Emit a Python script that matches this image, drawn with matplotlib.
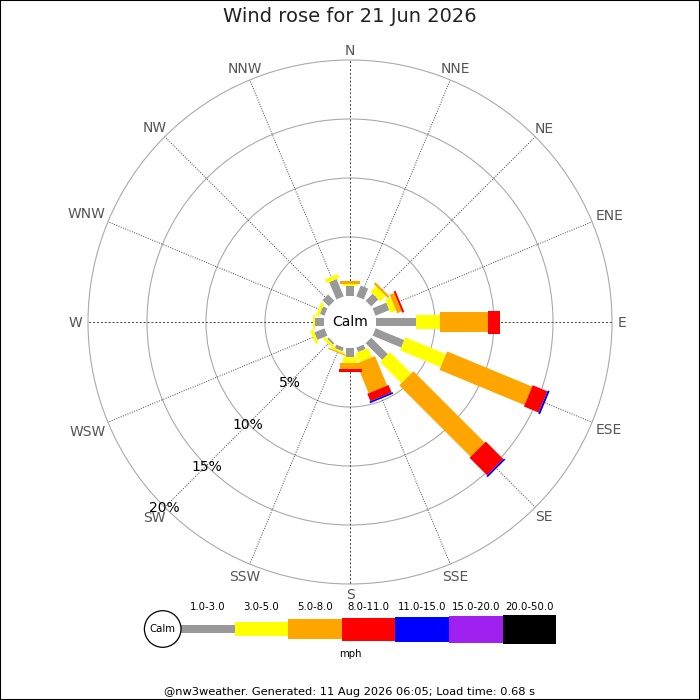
import matplotlib
matplotlib.use('Agg')
import matplotlib.pyplot as plt
import numpy as np
from matplotlib.patches import Polygon, Circle, Rectangle

# ---------------- data ----------------
title = "Wind rose for 21 Jun 2026"
footer = "@nw3weather. Generated: 11 Aug 2026 06:05; Load time: 0.68 s"
directions = ["N", "NNE", "NE", "ENE", "E", "ESE", "SE", "SSE",
              "S", "SSW", "SW", "WSW", "W", "WNW", "NW", "NNW"]
speed_bins = ["1.0-3.0", "3.0-5.0", "5.0-8.0", "8.0-11.0",
              "11.0-15.0", "15.0-20.0", "20.0-50.0"]
speed_unit = "mph"
# percentage of observations per direction in each speed bin
pct_1_3   = [0.85, 1.00, 0.85, 1.27, 3.36, 2.64, 2.00, 0.42, 0.76, 0.34, 0.17, 0.93, 0.76, 0.42, 0.76, 1.60]
pct_3_5   = [0.15, 0.00, 0.65, 0.51, 2.09, 3.72, 2.55, 0.85, 0.51, 0.16, 0.25, 0.27, 0.17, 0.26, 0.00, 0.35]
pct_5_8   = [0.30, 0.00, 0.20, 0.42, 4.07, 7.79, 8.55, 2.71, 0.55, 0.10, 0.00, 0.00, 0.00, 0.00, 0.00, 0.00]
pct_8_11  = [0.00, 0.00, 0.00, 0.17, 0.99, 1.35, 2.10, 0.68, 0.18, 0.00, 0.00, 0.00, 0.00, 0.00, 0.00, 0.00]
pct_11_15 = [0.00, 0.00, 0.00, 0.00, 0.00, 0.17, 0.15, 0.15, 0.00, 0.00, 0.00, 0.00, 0.00, 0.00, 0.00, 0.00]
pct_15_20 = [0.0] * 16
pct_20_50 = [0.0] * 16
ring_pcts = [5, 10, 15, 20]

series = [pct_1_3, pct_3_5, pct_5_8, pct_8_11, pct_11_15, pct_15_20, pct_20_50]

# ---------------- styles ----------------
colors = ['#999999', '#ffff00', '#ffa500', '#ff0000', '#0000ff', '#a020f0', '#000000']
bar_w = [8, 14, 20, 23, 25, 27, 29]          # px
CX, CY = 350, 322
CALM_R = 26
PX_PER_PCT = 11.8


def rpx(p):
    return CALM_R + PX_PER_PCT * p


fig = plt.figure(figsize=(7, 7), dpi=100)
ax = fig.add_axes([0, 0, 1, 1])
ax.set_xlim(0, 700)
ax.set_ylim(700, 0)
ax.axis('off')
renderer = fig.canvas.get_renderer()

# rings
for p in ring_pcts:
    ax.add_patch(Circle((CX, CY), rpx(p), fill=False, edgecolor='#aaaaaa', lw=0.8, zorder=1))

# spokes + labels
n = len(directions)
outer = rpx(ring_pcts[-1])
for i, d in enumerate(directions):
    th = np.deg2rad(i * 360.0 / n)
    ux, uy = np.sin(th), -np.cos(th)
    ls = (0, (2, 2)) if i % 4 == 0 else (0, (1, 1.5))
    ax.plot([CX + ux * CALM_R, CX + ux * outer], [CY + uy * CALM_R, CY + uy * outer],
            color='#444444', lw=0.7, linestyle=ls, zorder=1)
    t = ax.text(CX, CY, d, ha='center', va='center', fontsize=10, color='#555555', zorder=5)
    half_w = t.get_window_extent(renderer).width / 2.0
    half_h = 4.6
    lr = outer + 5.6 + np.hypot(half_w * ux, half_h * uy)
    t.set_position((CX + ux * lr, CY + uy * lr + 1.2))

# bars
for i in range(n):
    th = np.deg2rad(i * 360.0 / n)
    u = np.array([np.sin(th), -np.cos(th)])
    pperp = np.array([np.cos(th), np.sin(th)])
    cum = 0.0
    for k, s in enumerate(series):
        v = s[i]
        if v <= 0:
            continue
        r0, r1 = rpx(cum), rpx(cum + v)
        cum += v
        h = bar_w[k] / 2.0
        c = np.array([CX, CY])
        pts = [c + u * r0 + pperp * h, c + u * r1 + pperp * h,
               c + u * r1 - pperp * h, c + u * r0 - pperp * h]
        ax.add_patch(Polygon(pts, closed=True, facecolor=colors[k], edgecolor='none', zorder=3))

# calm circle
ax.add_patch(Circle((CX, CY), CALM_R, facecolor='white', edgecolor='none', zorder=4))
ax.text(CX, CY, "Calm", ha='center', va='center', fontsize=10, color='black', zorder=6)

# percentage labels
for p in ring_pcts:
    r = rpx(p)
    ax.text(CX - r * np.sqrt(0.5), CY + 1 + r * np.sqrt(0.5), f"{p}%", ha='center', va='center',
            fontsize=10, color='black', zorder=6)

# title
ax.text(350, 17, title, ha='center', va='center', fontsize=14, color='#222222')

# legend
LX0, LY = 181, 629
seg = 53.6
ax.add_patch(Circle((162.7, LY), 18.3, facecolor='white', edgecolor='black', lw=0.9, zorder=4))
ax.text(162.7, LY + 0.5, "Calm", ha='center', va='center', fontsize=7.3, zorder=6)
for k, lab in enumerate(speed_bins):
    x0 = LX0 + k * seg
    ax.add_patch(Rectangle((x0, LY - bar_w[k] / 2.0), seg, bar_w[k], facecolor=colors[k],
                           edgecolor='none', zorder=3))
    ax.text(x0 + seg / 2, 607, lab, ha='center', va='center', fontsize=7.3, zorder=6)
ax.text(350, 654, speed_unit, ha='center', va='center', fontsize=7.3, zorder=6)

# footer
ax.text(350, 692, footer, ha='center', va='center', fontsize=8.2)

fig.patches.append(Rectangle((0, 0), 1, 1, transform=fig.transFigure, fill=False,
                             edgecolor='black', lw=1.5))

fig.savefig('out.png', dpi=100)
